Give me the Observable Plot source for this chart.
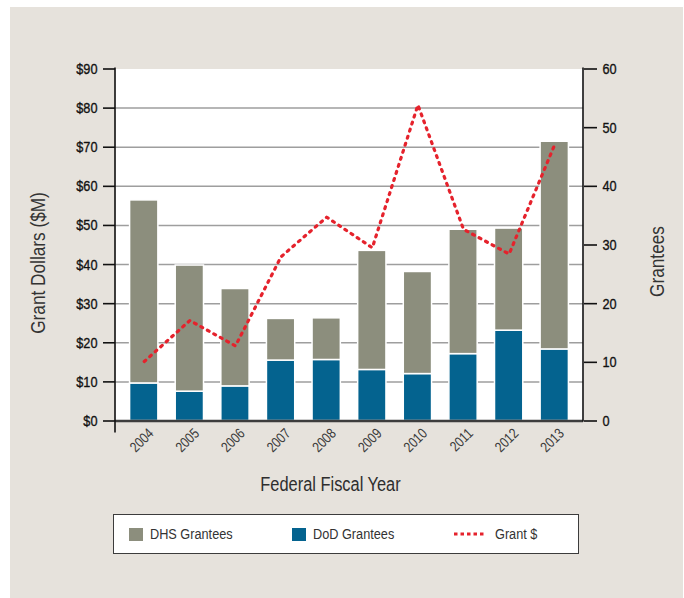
<!DOCTYPE html>
<html>
<head>
<meta charset="utf-8">
<script src="https://cdn.jsdelivr.net/npm/d3@7"></script>
<script src="https://cdn.jsdelivr.net/npm/@observablehq/plot@0.6"></script>
<style>
  html, body { margin: 0; padding: 0; background: #ffffff; }
  #page { position: relative; width: 684px; height: 598px; overflow: hidden; }
  #panel { position: absolute; left: 10px; top: 7px; width: 673px; height: 591px; background: #e6e2dc; }
  #chart { position: absolute; left: 0; top: 0; }
  #legend { position: absolute; left: 113px; top: 514px; width: 466px; height: 40px; box-sizing: border-box;
            border: 1.5px solid #3c3c3c; background: #ffffff;
            font-family: "Liberation Sans", Arial, sans-serif; font-size: 15.5px; color: #333; }
  .item { position: absolute; top: 0; height: 100%; display: flex; align-items: center; }
  .sw { width: 14px; height: 13px; margin-right: 7px; flex: none; }
  .lbl { display: inline-block; transform: scaleX(0.82); transform-origin: left center; white-space: nowrap; }
</style>
</head>
<body>
<div id="page">
  <div id="panel"></div>
  <div id="chart"></div>
  <div id="legend"></div>
</div>
<script>
// ---- data ----
const years = ["2004", "2005", "2006", "2007", "2008", "2009", "2010", "2011", "2012", "2013"];
const dodGrantees = [6.4, 5.0, 5.9, 10.3, 10.4, 8.7, 8.0, 11.4, 15.4, 12.2];
const dhsGrantees = [31.2, 21.5, 16.6, 7.1, 7.1, 20.3, 17.4, 21.2, 17.4, 35.4];
const grantDollars = [15.2, 25.7, 19.2, 42.0, 52.1, 44.3, 80.8, 49.0, 42.7, 70.7];
const dollarTicks = [0, 10, 20, 30, 40, 50, 60, 70, 80, 90];
const granteeTicks = [0, 10, 20, 30, 40, 50, 60];
const seriesNames = ["DHS Grantees", "DoD Grantees", "Grant $"];
const seriesColors = ["#8c8e7d", "#04638f", "#e5222c"];

// $90M corresponds to 60 grantees on the paired axes
const dollarsPerGrantee = 90 / 60;
const condense = 0.82; // reference uses a condensed typeface

const rows = years.flatMap((y, i) => [
  {year: y, type: seriesNames[1], value: dodGrantees[i]},
  {year: y, type: seriesNames[0], value: dhsGrantees[i]}
]);
const lineRows = years.map((y, i) => ({year: y, grant: grantDollars[i]}));

const axisLines = (index, scales, values, dim) => {
  const g = d3.create("svg:g");
  const xl = dim.marginLeft, xr = dim.width - dim.marginRight;
  const yt = dim.marginTop, yb = dim.height - dim.marginBottom;
  g.append("line").attr("x1", xl).attr("x2", xl).attr("y1", yt - 1).attr("y2", yb + 12)
    .attr("stroke", "#111").attr("stroke-width", 1.6);
  g.append("line").attr("x1", xr).attr("x2", xr).attr("y1", yt - 1).attr("y2", yb + 1)
    .attr("stroke", "#111").attr("stroke-width", 1.6);
  return g.node();
};

const tickText = {fill: "#111", textStroke: "#111", textStrokeWidth: 0.35, textStrokeOpacity: 1};

const chart = Plot.plot({
  width: 684,
  height: 500,
  marginLeft: 115,
  marginRight: 101,
  marginTop: 68.5,
  marginBottom: 79.5,
  style: {background: "transparent", fontFamily: "'Liberation Sans', Arial, sans-serif", fontSize: "15px", color: "#111"},
  x: {type: "band", domain: years, paddingInner: 0.38, paddingOuter: 0.32, round: false, axis: null},
  y: {domain: [0, 60], axis: null},
  color: {domain: seriesNames.slice(0, 2), range: seriesColors.slice(0, 2)},
  marks: [
    Plot.frame({fill: "white", stroke: "none"}),
    Plot.ruleY(dollarTicks.slice(1, -1).map(v => v / dollarsPerGrantee), {stroke: "#9e9e9e", strokeWidth: 1.5}),
    Plot.barY(rows, {x: "year", y: "value", fill: "type", stroke: "white", strokeWidth: 1.5}),
    Plot.ruleY([0], {stroke: "#3d3d3d", strokeWidth: 2.5}),
    Plot.line(lineRows, {x: "year", y: d => d.grant / dollarsPerGrantee, stroke: seriesColors[2], strokeWidth: 3.2,
      strokeDasharray: "2,5.4", strokeLinecap: "round", strokeLinejoin: "round"}),
    Plot.axisY(dollarTicks.map(v => v / dollarsPerGrantee), {anchor: "left", tickSize: 12, tickPadding: 6,
      tickFormat: v => "$" + Math.round(v * dollarsPerGrantee), label: null, strokeWidth: 1.6, fontSize: 15.5, ...tickText}),
    Plot.axisY(granteeTicks, {anchor: "right", tickSize: 13, tickPadding: 6, label: null, strokeWidth: 1.6, fontSize: 15.5, ...tickText}),
    Plot.axisX(years, {tickRotate: -45, tickSize: 0, tickPadding: 10, label: null, fontSize: 14.5, fill: "#3a3a3a", dx: 7}),
    axisLines,
    Plot.text(["Federal Fiscal Year"], {frameAnchor: "bottom", textAnchor: "middle", lineAnchor: "middle", dx: -19, dy: 64, fontSize: 20, fill: "#2e2e2e"}),
    Plot.text(["Grant Dollars ($M)"], {frameAnchor: "left", textAnchor: "middle", lineAnchor: "middle", rotate: -90, dx: -77.5, dy: 18, fontSize: 21, fill: "#333"}),
    Plot.text(["Grantees"], {frameAnchor: "right", textAnchor: "middle", lineAnchor: "middle", rotate: -90, dx: 74, dy: 16.5, fontSize: 21, fill: "#333"})
  ]
});
document.getElementById("chart").append(chart);

// condense all chart text along its own direction
chart.querySelectorAll("text").forEach(t => {
  const spans = t.querySelectorAll("tspan");
  const targets = spans.length ? Array.from(spans) : [t];
  targets.forEach(el => {
    const len = el.getComputedTextLength();
    if (len > 0) {
      el.setAttribute("textLength", (len * condense).toFixed(2));
      el.setAttribute("lengthAdjust", "spacingAndGlyphs");
    }
  });
});

// ---- legend ----
const legend = document.getElementById("legend");
const legendLeft = [15, 178, 338]; // offsets of items inside the box
seriesNames.forEach((name, i) => {
  const item = document.createElement("div");
  item.className = "item";
  item.style.left = legendLeft[i] + "px";
  if (i < 2) {
    const sw = document.createElement("div");
    sw.className = "sw";
    sw.style.background = seriesColors[i];
    item.append(sw);
  } else {
    const svg = d3.create("svg").attr("width", 36).attr("height", 10).style("margin-right", "7px");
    svg.append("line").attr("x1", 2).attr("x2", 34).attr("y1", 5).attr("y2", 5)
      .attr("stroke", seriesColors[2]).attr("stroke-width", 3).attr("stroke-dasharray", "3.5,3");
    item.append(svg.node());
  }
  const t = document.createElement("span");
  t.className = "lbl";
  t.textContent = name;
  item.append(t);
  legend.append(item);
});
</script>
</body>
</html>
